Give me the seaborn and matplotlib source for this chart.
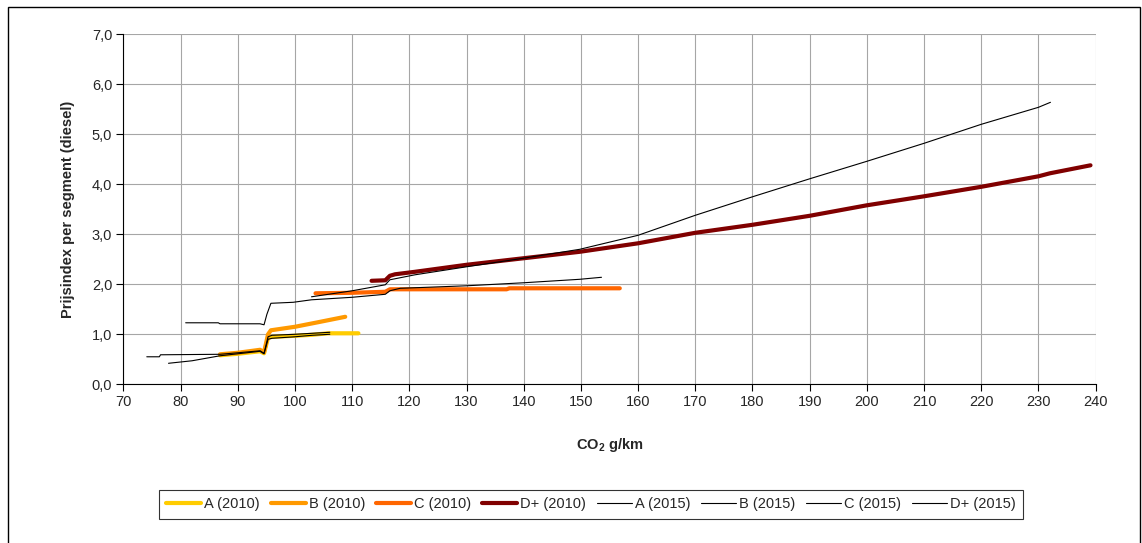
import matplotlib
matplotlib.use("Agg")
import matplotlib.pyplot as plt
import seaborn as sns
import pandas as pd
from matplotlib.patches import Rectangle
from matplotlib.ticker import FuncFormatter

# --- data (CO2 g/km vs price index) ---
a2010_x = [86.9, 90.0, 93.9, 94.6, 95.3, 96.0, 100.0, 103.0, 105.8, 106.5, 111.1]
a2010_y = [0.58, 0.61, 0.66, 0.62, 0.93, 0.95, 0.97, 0.99, 1.02, 1.02, 1.02]

b2010_x = [86.9, 90.0, 93.9, 94.6, 95.3, 95.8, 100.0, 104.0, 108.8]
b2010_y = [0.60, 0.63, 0.69, 0.64, 1.00, 1.08, 1.15, 1.24, 1.35]

c2010_x = [103.6, 110.0, 115.8, 116.6, 120.0, 130.0, 137.0, 137.5, 150.0, 156.8]
c2010_y = [1.82, 1.83, 1.85, 1.90, 1.90, 1.90, 1.90, 1.92, 1.92, 1.92]

d2010_x = [113.4, 115.8, 116.6, 117.5, 121.0, 130.0, 139.9, 149.8, 160.0, 170.0,
           180.0, 190.0, 200.0, 210.0, 220.0, 230.0, 232.0, 239.1]
d2010_y = [2.07, 2.08, 2.17, 2.20, 2.25, 2.39, 2.52, 2.65, 2.82, 3.03,
           3.19, 3.37, 3.58, 3.76, 3.95, 4.16, 4.22, 4.38]

a2015_x = [77.9, 82.0, 86.9, 90.0, 93.9, 94.6, 95.3, 96.0, 100.0, 103.0, 106.1]
a2015_y = [0.42, 0.47, 0.57, 0.61, 0.66, 0.61, 0.90, 0.92, 0.95, 0.98, 1.00]

b2015_x = [74.1, 76.3, 76.5, 86.9, 90.0, 93.9, 94.6, 95.3, 96.0, 100.0, 103.0, 106.1]
b2015_y = [0.55, 0.55, 0.59, 0.60, 0.63, 0.67, 0.62, 0.95, 0.98, 1.00, 1.02, 1.04]

c2015_x = [80.9, 86.6, 86.9, 93.9, 94.6, 95.1, 95.8, 99.7, 102.9, 110.0, 115.8,
           116.6, 118.4, 130.0, 139.9, 149.8, 153.6]
c2015_y = [1.23, 1.23, 1.21, 1.21, 1.19, 1.40, 1.62, 1.64, 1.69, 1.74, 1.80,
           1.87, 1.92, 1.97, 2.03, 2.10, 2.14]

d2015_x = [102.9, 110.0, 115.8, 116.6, 121.0, 130.0, 139.9, 149.8, 160.0, 170.0,
           180.0, 190.0, 200.0, 210.0, 220.0, 230.0, 232.1]
d2015_y = [1.75, 1.87, 1.99, 2.09, 2.19, 2.35, 2.52, 2.70, 2.98, 3.38,
           3.75, 4.11, 4.46, 4.82, 5.20, 5.54, 5.64]

x_ticks = list(range(70, 241, 10))
y_ticks = [0, 1, 2, 3, 4, 5, 6, 7]

series = [
    ("A (2010)", a2010_x, a2010_y, "#FFCC00", 3.0),
    ("B (2010)", b2010_x, b2010_y, "#FF9900", 3.0),
    ("C (2010)", c2010_x, c2010_y, "#FF6600", 3.0),
    ("D+ (2010)", d2010_x, d2010_y, "#800000", 3.0),
    ("A (2015)", a2015_x, a2015_y, "black", 0.8),
    ("B (2015)", b2015_x, b2015_y, "black", 0.8),
    ("C (2015)", c2015_x, c2015_y, "black", 0.8),
    ("D+ (2015)", d2015_x, d2015_y, "black", 0.8),
]

sns.set_style("white")
plt.rcParams["font.family"] = ["Liberation Sans", "DejaVu Sans"]
plt.rcParams["mathtext.fontset"] = "custom"
plt.rcParams["mathtext.rm"] = "Liberation Sans"
plt.rcParams["mathtext.bf"] = "Liberation Sans:bold"

fig = plt.figure(figsize=(11.42, 5.43), dpi=100)
ax = fig.add_axes([0.108, 0.2923, 0.8514, 0.6445])

for name, xs, ys, color, lw in series:
    df = pd.DataFrame({"x": xs, "y": ys})
    sns.lineplot(data=df, x="x", y="y", ax=ax, color=color, linewidth=lw,
                 estimator=None, sort=False, label=name, solid_capstyle="round")

ax.set_xlim(70, 240)
ax.set_ylim(0, 7)
ax.set_xticks(x_ticks)
ax.set_yticks(y_ticks)
ax.yaxis.set_major_formatter(FuncFormatter(lambda v, p: f"{v:.1f}".replace(".", ",")))
ax.grid(True, color="#a6a6a6", linewidth=0.8)
ax.set_axisbelow(True)
for s in ["top", "right"]:
    ax.spines[s].set_visible(False)
for s in ["left", "bottom"]:
    ax.spines[s].set_color("black")
    ax.spines[s].set_linewidth(0.8)
ax.tick_params(axis="both", direction="out", length=5, width=0.8, color="black",
               labelsize=10.5, pad=3, bottom=True, left=True)

ax.set_xlabel(r"CO$_\mathbf{2}$ g/km", fontsize=10.5, fontweight="bold", labelpad=19)
ax.set_ylabel("Prijsindex per segment (diesel)", fontsize=10.5, fontweight="bold", labelpad=12)

handles, labels = ax.get_legend_handles_labels()
ax.get_legend().remove()
leg = fig.legend(handles, labels, loc="center", bbox_to_anchor=(0.5175, 0.071), ncol=8,
                 fontsize=10.5, frameon=True, fancybox=False, edgecolor="black",
                 handlelength=2.4, handletextpad=0.2, columnspacing=0.75, borderpad=0.5)
leg.get_frame().set_linewidth(0.8)

# outer chart frame
fig.add_artist(Rectangle((8.3 / 1142, -0.05), (1140 - 8.3) / 1142, 1.05 - 6.7 / 543,
                         transform=fig.transFigure, fill=False, edgecolor="black",
                         linewidth=1.0))

fig.savefig("out.png", dpi=100)
